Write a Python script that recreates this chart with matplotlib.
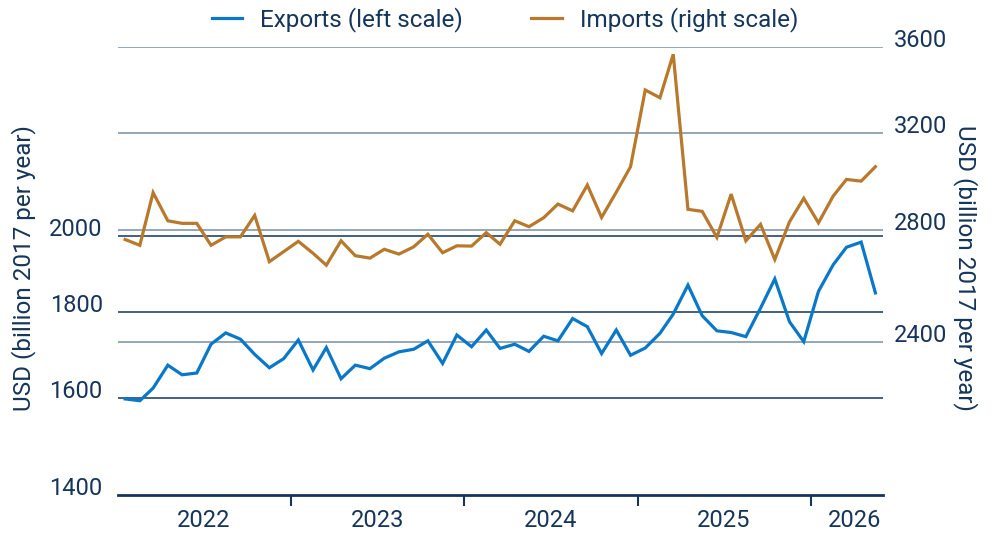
"""Exports vs imports, two log scales sharing the same ratio per pixel."""
import matplotlib
matplotlib.use("Agg")
import matplotlib.pyplot as plt
import numpy as np
import pandas as pd

plt.rcParams["font.family"] = ["Roboto", "DejaVu Sans"]

# Monthly values, Jan 2022 .. May 2026 (USD billion 2017, annualised).
months = pd.date_range("2022-01-01", periods=53, freq="MS")
exports = [1598, 1594, 1622, 1674, 1652, 1656, 1723, 1750, 1735, 1699,
           1668, 1689, 1733, 1663, 1715, 1643, 1674, 1666, 1690, 1705,
           1711, 1731, 1678, 1745, 1717, 1757, 1713, 1723, 1706, 1742,
           1731, 1785, 1765, 1701, 1757, 1697, 1714, 1749, 1796, 1869,
           1792, 1755, 1751, 1741, 1811, 1885, 1777, 1729, 1853, 1922,
           1969, 1983, 1849]
imports = [2762, 2740, 2946, 2834, 2824, 2824, 2740, 2772, 2772, 2855,
           2679, 2716, 2755, 2710, 2666, 2757, 2701, 2692, 2725, 2707,
           2734, 2782, 2712, 2738, 2737, 2788, 2744, 2834, 2811, 2846,
           2900, 2873, 2977, 2847, 2948, 3053, 3393, 3357, 3564, 2879,
           2871, 2770, 2940, 2757, 2820, 2687, 2830, 2923, 2826, 2932,
           3000, 2993, 3053]

left_ticks = [1400, 1600, 1800, 2000]
right_ticks = [2400, 2800, 3200, 3600]
years = ["2022", "2023", "2024", "2025", "2026"]

LEFT_LIM = (1400, 2594)
SCALE = 3600 / LEFT_LIM[1]          # right axis = left axis * SCALE
RIGHT_LIM = (LEFT_LIM[0] * SCALE, LEFT_LIM[1] * SCALE)

NAVY = "#15355a"
BLUE = "#0a78c8"
ORANGE = "#b8792c"
GRID_DARK = "#24466b"
GRID_LIGHT = "#8198ae"


def main() -> None:
    fig = plt.figure(figsize=(10, 5.4), dpi=100)
    ax = fig.add_axes([0.118, 0.0833, 0.765, 0.8297])
    ax2 = ax.twinx()
    # exports axis in front, transparent, so both lines sit above every grid line
    ax.set_zorder(2)
    ax.patch.set_visible(False)
    ax2.set_zorder(1)

    x = months + pd.Timedelta(days=15)
    l1, = ax.plot(x, exports, color=BLUE, lw=2.3, solid_joinstyle="miter",
                  label="Exports (left scale)")
    l2, = ax2.plot(x, imports, color=ORANGE, lw=2.3, solid_joinstyle="miter",
                   label="Imports (right scale)")

    for a, lim in ((ax, LEFT_LIM), (ax2, RIGHT_LIM)):
        a.set_yscale("log")
        a.set_ylim(*lim)
        a.yaxis.set_minor_locator(matplotlib.ticker.NullLocator())
        for s in a.spines.values():
            s.set_visible(False)

    ax.set_yticks(left_ticks)
    ax.set_yticklabels([str(v) for v in left_ticks])
    ax2.set_yticks(right_ticks)
    ax2.set_yticklabels([str(v) for v in right_ticks])
    ax.tick_params(axis="y", length=0, pad=11, labelsize=17, labelcolor=NAVY)
    ax2.tick_params(axis="y", length=0, pad=8, labelsize=17, labelcolor=NAVY)
    for lab in ax.get_yticklabels() + ax2.get_yticklabels():
        lab.set_verticalalignment("baseline")

    # grid lines of both scales, drawn on the back axis
    for v in right_ticks:
        ax2.axhline(v, color=GRID_LIGHT, lw=1.2, zorder=0)
    for v in left_ticks[1:]:
        ax2.axhline(v * SCALE, color=GRID_DARK, lw=1.2, zorder=0)

    ax.spines["bottom"].set_visible(True)
    ax.spines["bottom"].set_color(NAVY)
    ax.spines["bottom"].set_linewidth(2)

    ax.set_xlim(pd.Timestamp("2022-01-01"), pd.Timestamp("2026-06-01"))
    ax.set_xticks([pd.Timestamp(f"{y}-01-01") for y in years[1:]])
    ax.set_xticklabels([])
    ax.tick_params(axis="x", which="major", length=8, width=1.5, color=NAVY)
    label_pos = [pd.Timestamp(f"{y}-07-01") for y in years[:-1]] + [pd.Timestamp("2026-04-03")]
    ax.set_xticks(label_pos, minor=True)
    ax.set_xticklabels(years, minor=True)
    ax.tick_params(axis="x", which="minor", length=0, pad=10, labelsize=17, labelcolor=NAVY)

    ylab = "USD (billion 2017 per year)"
    fig.text(0.024, 0.503, ylab, rotation=90, ha="center", va="center",
             fontsize=17.5, color=NAVY)
    fig.text(0.965, 0.503, ylab, rotation=270, ha="center", va="center",
             fontsize=17.5, color=NAVY)

    fig.legend(handles=[l1, l2], loc="center", bbox_to_anchor=(0.505, 1 - 20 / 540),
               ncol=2, frameon=False, fontsize=17.5, labelcolor=NAVY,
               handlelength=1.25, handletextpad=0.75, columnspacing=2.8)

    fig.savefig("out.png", dpi=100)
    plt.close(fig)


if __name__ == "__main__":
    main()
